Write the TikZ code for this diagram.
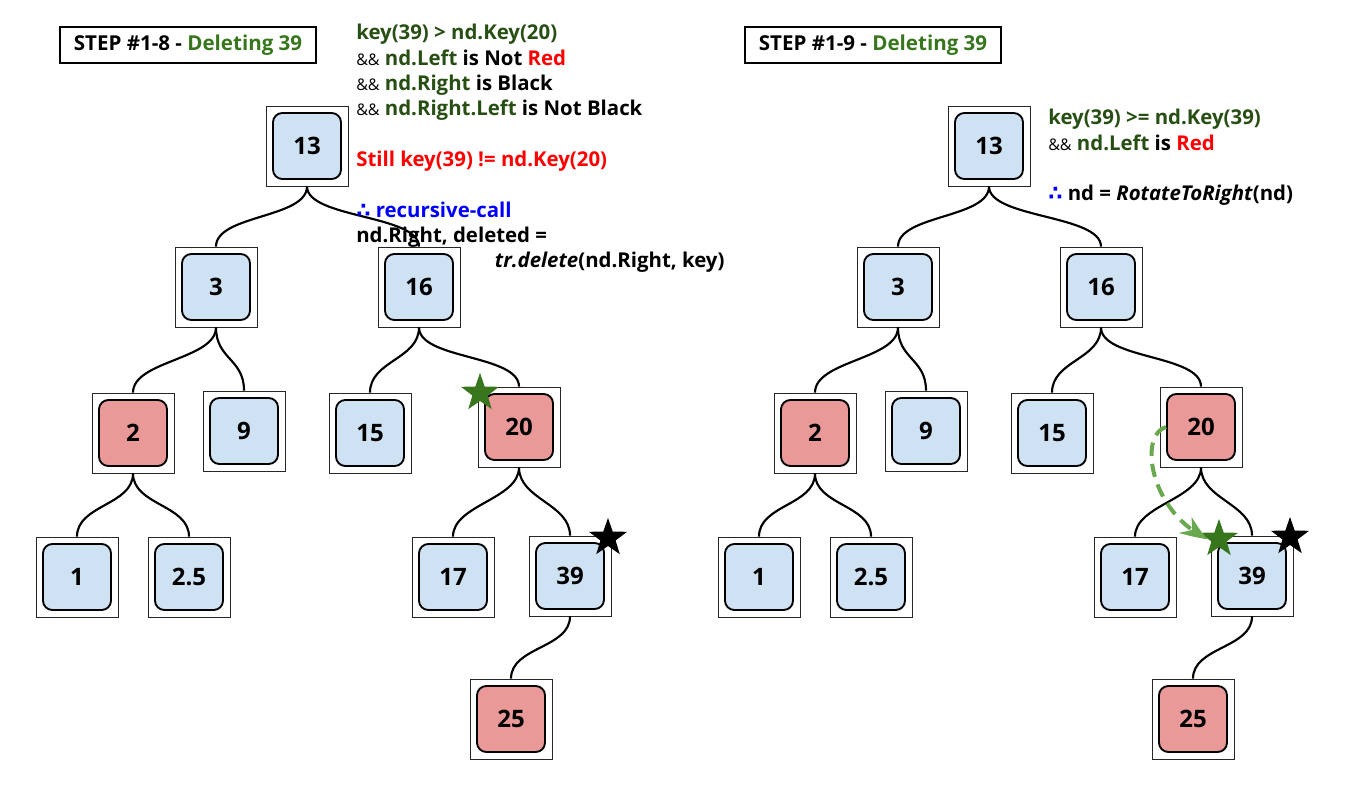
\documentclass[tikz,border=0pt]{standalone}
\usepackage{amssymb}
\usepackage{fontspec}
\setmainfont{Open Sans}
\newfontfamily\dejavu{DejaVu Sans}
\usetikzlibrary{shapes.geometric,arrows.meta,bending}

\definecolor{keyblue}{HTML}{CFE2F3}
\definecolor{keyred}{HTML}{EA9999}
\definecolor{condgreen}{HTML}{274E13}
\definecolor{titlegreen}{HTML}{38761D}
\definecolor{arrowgreen}{HTML}{6AA84F}
\definecolor{hotred}{HTML}{FF0000}
\definecolor{callblue}{HTML}{0000FF}

\newcommand\rbnode[5]{\node[outerbox, label={[innerbox, fill=#5, name=#1in]center:#4}] (#1) at (#2,#3) {};}
\newcommand\andand{{\mdseries\fontsize{12}{12}\selectfont\&\&}}
\newcommand\hence{{\dejavu ∴}}

\tikzset{
  outerbox/.style={draw=black!85, line width=0.6pt, minimum width=61.5pt, minimum height=60pt, inner sep=0pt},
  innerbox/.style={draw, line width=1.4pt, rounded corners=7pt, minimum width=51pt, minimum height=49.5pt, inner sep=0pt, font=\fontsize{18}{18}\selectfont\bfseries},
  link/.style={line width=1.6pt, to path={.. controls +(0,32) and +(0,-32) .. (\tikztotarget)}},
  titlebox/.style={draw, line width=1pt, minimum height=27pt, inner xsep=10.5pt, font=\fontsize{15.4}{19}\selectfont\bfseries},
  condtext/.style={anchor=north west, inner sep=0pt, align=left, font=\fontsize{15.3}{19}\selectfont\bfseries},
  markstar/.style={star, star points=5, star point ratio=2.5, minimum size=30pt, inner sep=0pt, draw=none},
  rotarrow/.style={arrowgreen, line width=3pt, dash pattern=on 10pt off 6pt, -{Stealth[length=20pt, width=15pt, bend]}}
}

\begin{document}
\begin{tikzpicture}[x=0.75pt, y=-0.75pt]
\useasboundingbox (0,0) rectangle (1371,795);

% both trees, the right one shifted
\foreach \s/\dx in {l/0, r/682} {
  \rbnode{\s13}{307+\dx}{146}{13}{keyblue}
  \rbnode{\s3}{216+\dx}{287}{3}{keyblue}
  \rbnode{\s16}{419+\dx}{287}{16}{keyblue}
  \rbnode{\s2}{133+\dx}{433}{2}{keyred}
  \rbnode{\s9}{244+\dx}{431}{9}{keyblue}
  \rbnode{\s15}{370+\dx}{433}{15}{keyblue}
  \rbnode{\s20}{519+\dx}{427}{20}{keyred}
  \rbnode{\s1}{77+\dx}{577}{1}{keyblue}
  \rbnode{\s2p5}{189+\dx}{577}{2.5}{keyblue}
  \rbnode{\s17}{453+\dx}{577}{17}{keyblue}
  \rbnode{\s39}{570+\dx}{576}{39}{keyblue}
  \rbnode{\s25}{511+\dx}{719}{25}{keyred}
  \foreach \a/\b in {13/3, 13/16, 3/2, 3/9, 16/15, 16/20, 2/1, 2/2p5, 20/17, 20/39, 39/25}
    \draw[link] (\s\a.south) to (\s\b.north);
}

% step 1-8
\node[titlebox] (ltitle) at (188,45) {STEP \#1-8 - \textcolor{titlegreen}{Deleting 39}};
\node[condtext] (lcond) at (356,24) {\textcolor{condgreen}{key(39) > nd.Key(20)}\\
\andand{} \textcolor{condgreen}{nd.Left} is Not \textcolor{hotred}{Red}\\
\andand{} \textcolor{condgreen}{nd.Right} is Black\\
\andand{} \textcolor{condgreen}{nd.Right.Left} is Not Black\\[19pt]
\textcolor{hotred}{Still key(39) != nd.Key(20)}\\[19pt]
\textcolor{callblue}{\hence{} recursive-call}\\
nd.Right, deleted =\\
\hspace*{104pt}\textit{tr.delete}(nd.Right, key)};
\node[markstar, fill=titlegreen] (lstarg) at (480,393) {};
\node[markstar, fill=black] (lstark) at (608,538) {};

% step 1-9
\node[titlebox] (rtitle) at (873,45) {STEP \#1-9 - \textcolor{titlegreen}{Deleting 39}};
\node[condtext] (rcond) at (1048,109) {\textcolor{condgreen}{key(39) >= nd.Key(39)}\\
\andand{} \textcolor{condgreen}{nd.Left} is \textcolor{hotred}{Red}\\[19pt]
\textcolor{callblue}{\hence} nd = \textit{RotateToRight}(nd)};
\node[markstar, fill=titlegreen] (rstarg) at (1219,539) {};
\node[markstar, fill=black] (rstark) at (1290,537) {};
\draw[rotarrow] (r20in.west) .. controls +(-28,8) and +(-58,-27) .. (rstarg.west);
\end{tikzpicture}
\end{document}
